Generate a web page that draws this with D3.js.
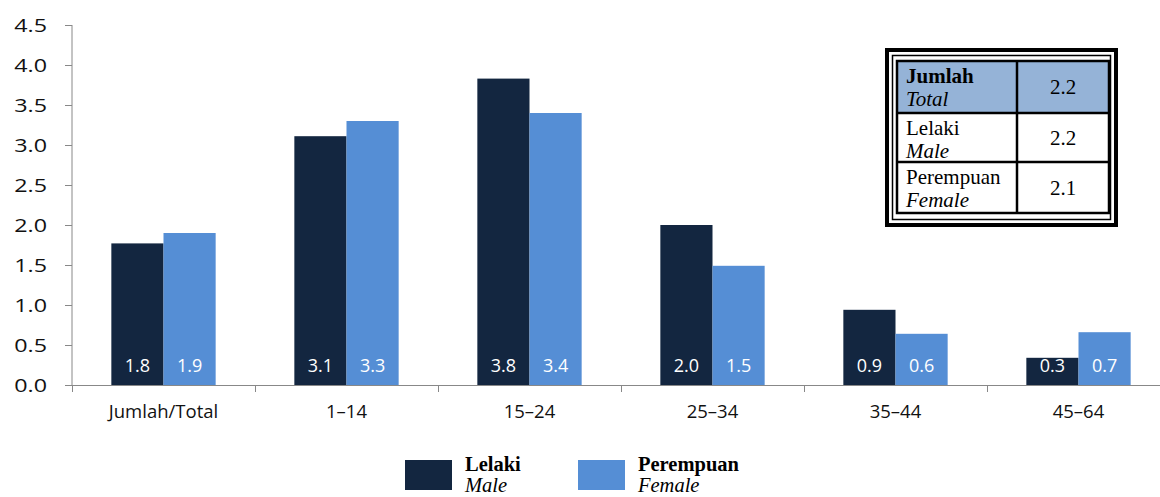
<!DOCTYPE html>
<html><head><meta charset="utf-8">
<script src="https://cdn.jsdelivr.net/npm/d3@7"></script>
<style>body{margin:0;background:#fff}svg{display:block}</style>
</head><body>
<script>
const categories = ["Jumlah/Total","1–14","15–24","25–34","35–44","45–64"];
const maleValues = [1.77,3.11,3.83,2.0,0.94,0.34];
const femaleValues = [1.9,3.3,3.4,1.49,0.64,0.66];
const yTicks = [0,0.5,1,1.5,2,2.5,3,3.5,4,4.5];
const seriesNames = [["Lelaki","Male"],["Perempuan","Female"]];
const tableRows = [["Jumlah","Total","2.2"],["Lelaki","Male","2.2"],["Perempuan","Female","2.1"]];
const colors = ["#132640","#558ed5"];

const W=1160,H=497;
const svg=d3.select("body").append("svg").attr("width",W).attr("height",H);
const x0=d3.scaleBand().domain(categories).range([72,1170]).paddingInner(0.43).paddingOuter(0.215);
const x1=d3.scaleBand().domain([0,1]).range([0,x0.bandwidth()]);
const y=d3.scaleLinear().domain([0,4.5]).range([385,25]);

// y axis
const ya=svg.append("g").attr("transform","translate(72,0)")
  .call(d3.axisLeft(y).tickValues(yTicks).tickFormat(d3.format(".1f")).tickSize(7));
ya.select(".domain").attr("stroke","#888").attr("d","M0,25V385");
ya.selectAll(".tick line").attr("stroke","#888");
ya.selectAll(".tick text").remove();
yTicks.forEach(t=>{
  svg.append("text").attr("transform",`translate(47,${y(t)}) scale(1.26,1)`)
    .attr("text-anchor","end").attr("dy","0.36em")
    .attr("font-family","Open Sans").attr("font-size",18.5).attr("fill","#111").text(d3.format(".1f")(t));
});

// x axis
const step=x0.step();
svg.append("line").attr("x1",72).attr("x2",1170).attr("y1",385.5).attr("y2",385.5).attr("stroke","#888");
categories.forEach((c,i)=>{
  const xb=72.5+Math.round(step*(i+1));
  svg.append("line").attr("x1",xb).attr("x2",xb).attr("y1",385).attr("y2",392).attr("stroke","#888");
});
svg.append("line").attr("x1",72.5).attr("x2",72.5).attr("y1",385).attr("y2",392).attr("stroke","#888");
svg.selectAll(".xl").data(categories).enter().append("text")
  .attr("x",d=>x0(d)+x0.bandwidth()/2).attr("y",418).attr("text-anchor","middle")
  .attr("font-family","Open Sans").attr("font-size",18.5).attr("fill","#111").text(d=>d);

// bars
const data=categories.map((c,i)=>({c,v:[maleValues[i],femaleValues[i]]}));
const g=svg.selectAll(".grp").data(data).enter().append("g").attr("transform",d=>`translate(${x0(d.c)},0)`);
g.selectAll("rect").data(d=>d.v).enter().append("rect")
  .attr("x",(d,i)=>x1(i)).attr("width",x1.bandwidth()).attr("y",d=>y(d)).attr("height",d=>385-y(d))
  .attr("fill",(d,i)=>colors[i]);
g.selectAll(".lbl").data(d=>d.v).enter().append("text")
  .attr("x",(d,i)=>x1(i)+x1.bandwidth()/2).attr("y",372).attr("text-anchor","middle")
  .attr("font-family","Open Sans").attr("font-size",18).attr("fill","#fff").text(d=>d.toFixed(1));

// table
const tb=svg.append("g");
tb.append("rect").attr("x",887).attr("y",50).attr("width",229).attr("height",175).attr("fill","none").attr("stroke","#000").attr("stroke-width",4);
tb.append("rect").attr("x",892.5).attr("y",55.5).attr("width",218).attr("height",164).attr("fill","none").attr("stroke","#000").attr("stroke-width",1.5);
const rowY=[61,113,162,213];
const cx=[897,1017,1109];
tableRows.forEach((r,i)=>{
  if(i===0) tb.append("rect").attr("x",cx[0]).attr("y",rowY[0]).attr("width",cx[2]-cx[0]).attr("height",rowY[1]-rowY[0]).attr("fill","#95b3d7");
  tb.append("text").attr("x",906).attr("y",rowY[i]+22).attr("font-family","Liberation Serif").attr("font-size",21)
    .attr("font-weight",i===0?"bold":"normal").text(r[0]);
  tb.append("text").attr("x",906).attr("y",rowY[i]+45).attr("font-family","Liberation Serif").attr("font-size",21)
    .attr("font-style","italic").text(r[1]);
  tb.append("text").attr("x",1063).attr("y",(rowY[i]+rowY[i+1])/2+7).attr("text-anchor","middle")
    .attr("font-family","Liberation Serif").attr("font-size",21).text(r[2]);
});
tb.append("rect").attr("x",cx[0]).attr("y",rowY[0]).attr("width",cx[2]-cx[0]).attr("height",rowY[3]-rowY[0]).attr("fill","none").attr("stroke","#000").attr("stroke-width",2.5);
[rowY[1],rowY[2]].forEach(yy=>tb.append("line").attr("x1",cx[0]).attr("x2",cx[2]).attr("y1",yy).attr("y2",yy).attr("stroke","#000").attr("stroke-width",2.5));
tb.append("line").attr("x1",cx[1]).attr("x2",cx[1]).attr("y1",rowY[0]).attr("y2",rowY[3]).attr("stroke","#000").attr("stroke-width",2.5);

// legend
const lx=[405,578];
seriesNames.forEach((s,i)=>{
  svg.append("rect").attr("x",lx[i]).attr("y",460).attr("width",47).attr("height",30).attr("fill",colors[i]);
  svg.append("text").attr("x",lx[i]+60).attr("y",471).attr("font-family","Liberation Serif").attr("font-size",20.5).attr("font-weight","bold").text(s[0]);
  svg.append("text").attr("x",lx[i]+60).attr("y",492).attr("font-family","Liberation Serif").attr("font-size",20.5).attr("font-style","italic").text(s[1]);
});
</script>
</body></html>
